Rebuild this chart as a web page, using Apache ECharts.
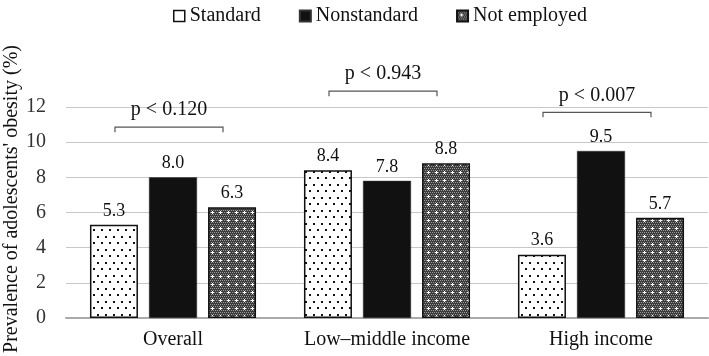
<!DOCTYPE html>
<html>
<head>
<meta charset="utf-8">
<script src="https://cdn.jsdelivr.net/npm/echarts@6/dist/echarts.min.js"></script>
<style>
  html, body { margin: 0; padding: 0; background: #fff; }
  #chart { width: 709px; height: 356px; }
</style>
</head>
<body>
<div id="chart"></div>
<script>
// data
var categories = ['Overall', 'Low\u2013middle income', 'High income'];
var seriesNames = ['Standard', 'Nonstandard', 'Not employed'];
var standard = [5.3, 8.4, 3.6];
var nonstandard = [8.0, 7.8, 9.5];
var notEmployed = [6.3, 8.8, 5.7];
var yTicks = [0, 2, 4, 6, 8, 10, 12];
// p-value brackets: category index, bracket height (axis units), text
var bracketCats = [0, 1, 2];
var bracketY = [10.85, 12.9, 11.7];
var bracketText = ['p < 0.120', 'p < 0.943', 'p < 0.007'];

var FONT = '"Liberation Serif", "Times New Roman", serif';

// fill patterns
function dotPattern() {
  var c = document.createElement('canvas');
  c.width = 8; c.height = 13;
  var g = c.getContext('2d');
  g.fillStyle = '#fff'; g.fillRect(0, 0, 8, 13);
  g.fillStyle = '#111';
  g.fillRect(1, 2, 2, 2);
  g.fillRect(5, 8, 2, 2);
  return c;
}
function grayPattern() {
  var c = document.createElement('canvas');
  c.width = 8; c.height = 8;
  var g = c.getContext('2d');
  g.fillStyle = '#3c3c3c'; g.fillRect(0, 0, 8, 8);
  g.fillStyle = '#9a9a9a';
  for (var y = 0; y < 8; y += 2) {
    for (var x = (y % 4 === 0 ? 0 : 1); x < 8; x += 2) g.fillRect(x, y, 1, 1);
  }
  g.fillStyle = '#fff';
  g.fillRect(4, 3, 1, 3);
  g.fillRect(3, 4, 3, 1);
  return c;
}

var chart = echarts.init(document.getElementById('chart'));

var labelStyle = {
  show: true, position: 'top', distance: 5,
  fontFamily: FONT, fontSize: 18, color: '#111',
  formatter: function (p) { return p.value.toFixed(1); }
};

var bracketData = bracketCats.map(function (c, i) { return [c, bracketY[i]]; });

var option = {
  animation: false,
  backgroundColor: '#fff',
  textStyle: { fontFamily: FONT },
  legend: {
    data: [
      { name: seriesNames[0], itemStyle: { color: '#fff', borderColor: '#111', borderWidth: 1.5 } },
      { name: seriesNames[1] },
      { name: seriesNames[2] }
    ],
    icon: 'rect',
    left: 168, top: 1,
    itemWidth: 11, itemHeight: 11, itemGap: 38,
    textStyle: { fontFamily: FONT, fontSize: 20, color: '#111' }
  },
  grid: { left: 66, right: 1, top: 107, bottom: 38 },
  xAxis: {
    type: 'category',
    data: categories,
    axisTick: { show: false },
    axisLine: { lineStyle: { color: '#aaaaaa', width: 2 } },
    axisLabel: { interval: 0, fontFamily: FONT, fontSize: 20, color: '#111', margin: 12 }
  },
  yAxis: {
    type: 'value',
    min: yTicks[0], max: yTicks[yTicks.length - 1], interval: 2,
    axisLine: { show: false },
    axisTick: { show: false },
    axisLabel: { fontFamily: FONT, fontSize: 20, color: '#333', margin: 20 },
    splitLine: { lineStyle: { color: '#c8c8c8', width: 1.2 } }
  },
  graphic: [{
    type: 'text',
    x: 12, y: 199,
    rotation: Math.PI / 2,
    style: {
      text: "Prevalence of adolescents' obesity (%)",
      font: '20px ' + FONT,
      fill: '#111',
      align: 'center', verticalAlign: 'middle'
    }
  }],
  series: [
    {
      name: seriesNames[0], type: 'bar', data: standard,
      barWidth: 48, barGap: '23%',
      itemStyle: { color: { image: dotPattern(), repeat: 'repeat' }, borderColor: '#111', borderWidth: 1.5 },
      label: labelStyle
    },
    {
      name: seriesNames[1], type: 'bar', data: nonstandard,
      barWidth: 48,
      itemStyle: { color: '#111', borderColor: '#333', borderWidth: 0.5 },
      label: labelStyle
    },
    {
      name: seriesNames[2], type: 'bar', data: notEmployed,
      barWidth: 48,
      itemStyle: { color: { image: grayPattern(), repeat: 'repeat' }, borderColor: '#111', borderWidth: 1.5 },
      label: labelStyle
    },
    {
      type: 'custom',
      clip: false,
      silent: true,
      data: bracketData,
      renderItem: function (params, api) {
        var p = api.coord([api.value(0), api.value(1)]);
        var x0 = p[0] - 58, x1 = p[0] + 50, y = p[1];
        return {
          type: 'group',
          children: [
            {
              type: 'polyline',
              shape: { points: [[x0, y + 5], [x0, y], [x1, y], [x1, y + 5]] },
              style: { stroke: '#555', lineWidth: 1.2, fill: null }
            },
            {
              type: 'text',
              x: (x0 + x1) / 2, y: y - 17,
              style: {
                text: bracketText[params.dataIndex],
                font: '20px ' + FONT, fill: '#111',
                align: 'center', verticalAlign: 'middle'
              }
            }
          ]
        };
      }
    }
  ]
};

chart.setOption(option);
</script>
</body>
</html>
